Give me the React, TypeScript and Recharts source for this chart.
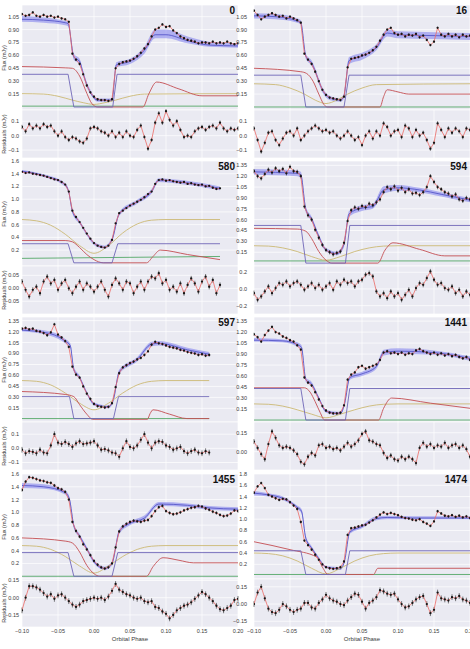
import React from "react";
import { ComposedChart, Line, Area, XAxis, YAxis, CartesianGrid, ErrorBar } from "recharts";

// orbital phase grid shared by all light curves
const PHASE = [-0.1, -0.095, -0.09, -0.085, -0.08, -0.075, -0.07, -0.065, -0.06, -0.055, -0.05, -0.045, -0.04, -0.035, -0.03, -0.025, -0.02, -0.015, -0.01, -0.005, 0, 0.005, 0.01, 0.015, 0.02, 0.025, 0.03, 0.035, 0.04, 0.045, 0.05, 0.055, 0.06, 0.065, 0.07, 0.075, 0.08, 0.085, 0.09, 0.095, 0.1, 0.105, 0.11, 0.115, 0.12, 0.125, 0.13, 0.135, 0.14, 0.145, 0.15, 0.155, 0.16, 0.165, 0.17, 0.175, 0.18, 0.185, 0.19, 0.195, 0.2];
const X_TICKS = [-0.1, -0.05, 0, 0.05, 0.1, 0.15, 0.2];

// observed flux (mJy)
const flux0 = [1.08, 1.06, 1.07, 1.1, 1.06, 1.05, 1.07, 1.05, 1.06, 1.04, 1.05, 1.03, 1.02, 0.99, 0.62, 0.55, 0.5, 0.38, 0.25, 0.17, 0.12, 0.09, 0.08, 0.08, 0.07, 0.09, 0.45, 0.5, 0.52, 0.53, 0.54, 0.56, 0.59, 0.63, 0.68, 0.73, 0.82, 0.9, 0.92, 0.96, 0.93, 0.94, 0.89, 0.86, 0.82, 0.8, 0.78, 0.77, 0.76, 0.74, 0.75, 0.75, 0.74, 0.76, 0.74, 0.75, 0.74, 0.76, 0.74, 0.73, 0.74];
const flux16 = [1.12, 1.07, 1.02, 1.05, 1.07, 1.09, 1.07, 1.05, 1.06, 1.03, 1.05, 1.03, 1.01, 0.98, 0.62, 0.55, 0.5, 0.41, 0.3, 0.2, 0.14, 0.11, 0.1, 0.09, 0.08, 0.12, 0.46, 0.56, 0.57, 0.58, 0.6, 0.61, 0.63, 0.66, 0.7, 0.77, 0.84, 0.9, 0.92, 0.86, 0.84, 0.85, 0.82, 0.84, 0.83, 0.85, 0.81, 0.83, 0.78, 0.72, 0.76, 0.92, 0.84, 0.82, 0.85, 0.82, 0.84, 0.81, 0.84, 0.82, 0.83];
const flux580 = [1.43, 1.41, 1.42, 1.4, 1.39, 1.38, 1.37, 1.35, 1.33, 1.31, 1.3, 1.27, 1.23, 1.12, 0.82, 0.72, 0.64, 0.55, 0.46, 0.38, 0.31, 0.27, 0.25, 0.24, 0.27, 0.36, 0.62, 0.78, 0.82, 0.86, 0.9, 0.93, 0.96, 0.99, 1.03, 1.08, 1.12, 1.24, 1.3, 1.31, 1.29, 1.3, 1.28, 1.27, 1.26, 1.27, 1.24, 1.25, 1.23, 1.22, 1.23, 1.2, 1.21, 1.18, 1.16, 1.17];
const flux594 = [1.27, 1.2, 1.17, 1.23, 1.29, 1.25, 1.31, 1.27, 1.3, 1.24, 1.33, 1.27, 1.26, 1.2, 0.78, 0.66, 0.6, 0.46, 0.35, 0.25, 0.18, 0.15, 0.12, 0.14, 0.16, 0.28, 0.58, 0.73, 0.77, 0.75, 0.79, 0.77, 0.82, 0.8, 0.84, 0.88, 0.98, 1.05, 1.02, 1.06, 1.0, 1.04, 0.98, 1.02, 0.96, 0.97, 0.94, 0.98, 1.05, 1.2, 1.12, 1.05, 1.02, 0.98, 0.96, 0.92, 0.95, 0.88, 0.86, 0.9, 0.88];
const flux597 = [1.24, 1.25, 1.23, 1.24, 1.21, 1.2, 1.18, 1.15, 1.19, 1.3, 1.16, 1.12, 1.07, 0.99, 0.72, 0.61, 0.57, 0.45, 0.35, 0.28, 0.21, 0.18, 0.17, 0.16, 0.17, 0.22, 0.44, 0.63, 0.71, 0.74, 0.77, 0.79, 0.82, 0.84, 0.88, 0.93, 1.02, 1.06, 1.04, 1.03, 1.01, 0.99, 0.98, 0.97, 0.95, 0.94, 0.92, 0.91, 0.9, 0.88, 0.89, 0.87, 0.88];
const flux1441 = [1.17, 1.13, 1.07, 1.16, 1.22, 1.27, 1.2, 1.18, 1.14, 1.12, 1.09, 1.07, 1.02, 0.96, 0.58, 0.51, 0.47, 0.38, 0.28, 0.19, 0.13, 0.1, 0.09, 0.09, 0.1, 0.2, 0.55, 0.62, 0.65, 0.72, 0.74, 0.7, 0.72, 0.74, 0.76, 0.82, 0.92, 0.94, 0.91, 0.92, 0.9, 0.92, 0.89, 0.91, 0.9, 0.95, 0.97, 0.94, 0.92, 0.9, 0.92, 0.89, 0.91, 0.88, 0.9, 0.87, 0.89, 0.86, 0.84, 0.86, 0.82];
const flux1455 = [1.35, 1.48, 1.55, 1.54, 1.52, 1.5, 1.49, 1.47, 1.46, 1.42, 1.38, 1.36, 1.32, 1.2, 0.85, 0.71, 0.62, 0.5, 0.42, 0.33, 0.24, 0.18, 0.14, 0.12, 0.14, 0.2, 0.45, 0.7, 0.78, 0.82, 0.85, 0.87, 0.86, 0.85, 0.87, 0.88, 0.94, 1.02, 1.08, 1.1, 1.02, 0.99, 0.97, 0.98, 1.0, 1.03, 1.05, 1.07, 1.08, 1.1, 1.09, 1.06, 1.04, 1.01, 0.99, 0.96, 0.94, 0.95, 0.98, 1.03, 1.02];
const flux1474 = [1.47, 1.58, 1.64, 1.55, 1.43, 1.4, 1.37, 1.34, 1.36, 1.35, 1.3, 1.24, 1.18, 0.95, 0.62, 0.54, 0.46, 0.37, 0.28, 0.2, 0.15, 0.13, 0.12, 0.13, 0.15, 0.25, 0.72, 0.84, 0.85, 0.87, 0.89, 0.9, 0.94, 0.98, 1.03, 1.08, 1.12, 1.09, 1.11, 1.09, 1.07, 1.04, 1.02, 1.01, 0.99, 0.98, 1.0, 0.95, 0.92, 0.88, 0.96, 1.14, 1.1, 1.06, 1.05, 1.07, 1.04, 1.06, 1.03, 1.05, 1.02];

// residuals (mJy)
const res0 = [0.06, 0.03, 0.08, 0.05, 0.07, 0.05, 0.08, 0.06, 0.07, 0.03, 0.0, 0.03, -0.01, -0.03, -0.01, -0.02, -0.04, -0.05, -0.02, 0.05, 0.06, 0.05, 0.03, 0.02, 0.0, 0.03, -0.01, 0.02, -0.01, 0.03, 0.0, -0.01, 0.04, 0.07, -0.01, -0.09, -0.03, 0.09, 0.155, 0.09, 0.17, 0.11, 0.07, 0.1, 0.04, -0.01, 0.0, -0.01, 0.03, 0.05, 0.06, 0.04, 0.06, 0.07, 0.05, 0.09, 0.05, 0.03, 0.05, 0.04, 0.05];
const res16 = [0.05, -0.03, -0.11, -0.05, 0.02, 0.03, -0.03, -0.065, -0.02, 0.02, 0.03, 0.0, 0.05, -0.03, 0.0, 0.03, 0.05, 0.07, 0.05, 0.03, 0.04, 0.02, 0.03, 0.0, -0.02, 0.0, 0.03, 0.0, -0.03, -0.01, -0.065, 0.0, 0.03, -0.02, 0.03, 0.0, 0.085, 0.06, 0.0, 0.03, 0.04, -0.01, 0.07, 0.05, -0.01, 0.04, 0.0, 0.02, -0.03, -0.09, -0.05, 0.085, 0.04, -0.01, 0.05, 0.02, 0.05, 0.03, -0.01, 0.05, 0.04];
const res580 = [0.026, -0.006, -0.032, -0.006, 0.006, -0.019, 0.026, 0.045, 0.019, 0.032, -0.006, 0.019, 0.032, 0.0, -0.019, 0.006, 0.026, -0.006, 0.019, 0.006, -0.013, 0.006, 0.026, -0.006, -0.032, 0.013, 0.038, 0.019, -0.006, 0.026, 0.019, -0.019, 0.006, 0.026, -0.006, 0.026, 0.045, 0.038, 0.058, 0.019, 0.032, -0.006, 0.006, -0.013, 0.019, -0.019, 0.013, 0.038, 0.019, -0.013, 0.026, 0.045, 0.006, 0.032, -0.019, 0.013];
const res594 = [-0.05, -0.13, -0.09, -0.03, 0.03, -0.05, 0.01, 0.07, 0.05, 0.09, 0.03, 0.07, 0.09, 0.05, -0.01, 0.03, 0.07, 0.01, 0.05, -0.01, 0.03, 0.07, -0.01, 0.09, 0.05, 0.11, 0.07, 0.09, 0.03, 0.09, 0.11, 0.17, 0.19, 0.15, -0.03, -0.09, -0.05, -0.11, -0.03, -0.09, -0.05, -0.13, -0.07, -0.01, -0.09, 0.01, 0.07, 0.05, 0.13, 0.21, 0.11, 0.05, 0.07, 0.01, -0.01, 0.03, -0.05, -0.01, -0.09, -0.03, -0.07];
const res597 = [-0.01, -0.035, -0.02, -0.025, -0.035, -0.01, -0.03, -0.035, 0.02, 0.1, 0.04, 0.03, 0.045, 0.03, 0.01, 0.035, 0.05, 0.03, 0.035, 0.04, 0.05, 0.02, -0.01, -0.005, -0.015, -0.03, -0.035, -0.06, 0.0, 0.05, 0.01, 0.0, 0.02, 0.06, 0.1, 0.04, 0.0, 0.04, 0.05, 0.045, 0.02, 0.01, -0.01, 0.0, 0.01, -0.02, -0.035, -0.02, -0.01, -0.03, -0.035, -0.02, -0.03];
const res1441 = [0.08, 0.03, -0.02, -0.06, 0.06, 0.16, 0.11, 0.05, 0.03, 0.04, 0.03, 0.01, -0.02, -0.08, -0.1, -0.04, -0.01, -0.03, 0.05, 0.06, 0.03, 0.04, 0.02, 0.03, 0.01, 0.04, 0.07, 0.04, 0.06, 0.09, 0.14, 0.16, 0.09, 0.08, 0.06, 0.05, -0.01, -0.05, -0.03, -0.06, -0.07, -0.04, -0.06, -0.04, -0.06, -0.09, 0.03, 0.07, 0.04, 0.06, 0.03, 0.05, 0.04, 0.07, 0.03, 0.05, 0.06, 0.03, 0.05, 0.02, -0.04];
const res1455 = [-0.11, 0.0, 0.1, 0.1, 0.09, 0.07, 0.04, 0.01, 0.03, -0.01, 0.02, 0.03, 0.0, -0.03, -0.06, -0.08, -0.06, -0.03, -0.02, -0.01, 0.0, -0.01, 0.0, -0.02, 0.01, 0.06, 0.12, 0.07, 0.05, 0.03, 0.02, 0.0, -0.01, 0.0, -0.03, -0.04, -0.03, -0.08, -0.09, -0.12, -0.14, -0.18, -0.15, -0.11, -0.09, -0.07, -0.06, -0.04, -0.01, 0.02, 0.05, 0.03, 0.0, -0.03, -0.07, -0.1, -0.11, -0.09, -0.07, -0.02, -0.01];
const res1474 = [0.0, 0.1, 0.15, 0.05, -0.04, -0.07, -0.08, -0.05, 0.0, -0.02, -0.05, -0.07, -0.05, -0.04, 0.01, 0.01, -0.03, -0.04, 0.01, 0.04, 0.08, 0.05, 0.03, 0.02, 0.0, -0.01, 0.03, 0.06, 0.09, 0.08, 0.02, -0.04, 0.01, 0.03, 0.06, 0.12, 0.11, 0.09, 0.08, 0.09, 0.04, 0.0, -0.03, -0.02, 0.01, 0.04, 0.06, 0.07, 0.0, -0.08, -0.05, 0.1, 0.05, 0.04, 0.03, 0.06, 0.05, 0.07, 0.04, 0.03, 0.01];

// model spread: [phase, low, mean, high]
const band0 = [[-0.1, 0.99, 1.02, 1.06], [-0.07, 0.98, 1.01, 1.04], [-0.04, 0.95, 0.98, 1.0], [-0.036, 0.94, 0.97, 0.99], [-0.028, 0.55, 0.58, 0.62], [-0.02, 0.5, 0.53, 0.56], [-0.015, 0.36, 0.39, 0.42], [-0.01, 0.23, 0.26, 0.29], [-0.005, 0.15, 0.17, 0.2], [0.005, 0.06, 0.08, 0.1], [0.025, 0.06, 0.08, 0.1], [0.031, 0.46, 0.49, 0.52], [0.05, 0.5, 0.53, 0.56], [0.07, 0.62, 0.66, 0.7], [0.085, 0.8, 0.84, 0.9], [0.1, 0.8, 0.84, 0.9], [0.13, 0.74, 0.77, 0.82], [0.16, 0.7, 0.72, 0.76], [0.2, 0.69, 0.71, 0.74]];
const band16 = [[-0.1, 1.03, 1.06, 1.09], [-0.07, 1.02, 1.05, 1.08], [-0.04, 0.98, 1.0, 1.03], [-0.035, 0.96, 0.98, 1.01], [-0.028, 0.56, 0.59, 0.62], [-0.02, 0.48, 0.51, 0.54], [-0.015, 0.39, 0.42, 0.45], [-0.01, 0.27, 0.3, 0.33], [-0.005, 0.17, 0.2, 0.23], [0.005, 0.08, 0.11, 0.13], [0.02, 0.06, 0.08, 0.1], [0.025, 0.1, 0.13, 0.16], [0.032, 0.5, 0.54, 0.58], [0.05, 0.55, 0.59, 0.63], [0.07, 0.66, 0.69, 0.73], [0.085, 0.82, 0.86, 0.9], [0.1, 0.8, 0.84, 0.88], [0.15, 0.79, 0.83, 0.87], [0.2, 0.78, 0.82, 0.86]];
const band580 = [[-0.1, 1.41, 1.44, 1.46], [-0.07, 1.35, 1.37, 1.39], [-0.04, 1.2, 1.23, 1.25], [-0.035, 1.08, 1.11, 1.14], [-0.03, 0.78, 0.81, 0.85], [-0.02, 0.61, 0.64, 0.67], [-0.01, 0.43, 0.46, 0.48], [0.0, 0.28, 0.31, 0.33], [0.015, 0.22, 0.24, 0.27], [0.025, 0.33, 0.36, 0.4], [0.035, 0.74, 0.77, 0.8], [0.06, 0.93, 0.96, 0.99], [0.08, 1.09, 1.12, 1.16], [0.09, 1.27, 1.3, 1.33], [0.12, 1.24, 1.27, 1.3], [0.175, 1.14, 1.17, 1.2]];
const band594 = [[-0.1, 1.22, 1.26, 1.3], [-0.04, 1.2, 1.24, 1.28], [-0.035, 1.18, 1.22, 1.26], [-0.028, 0.7, 0.74, 0.78], [-0.02, 0.58, 0.61, 0.64], [-0.01, 0.34, 0.37, 0.4], [0.0, 0.16, 0.18, 0.21], [0.015, 0.11, 0.13, 0.16], [0.025, 0.22, 0.26, 0.3], [0.032, 0.64, 0.68, 0.72], [0.05, 0.72, 0.76, 0.8], [0.065, 0.75, 0.78, 0.82], [0.08, 0.96, 1.01, 1.06], [0.1, 1.0, 1.04, 1.08], [0.13, 0.98, 1.01, 1.04], [0.16, 0.92, 0.95, 0.98], [0.2, 0.84, 0.87, 0.9]];
const band597 = [[-0.1, 1.2, 1.22, 1.25], [-0.06, 1.14, 1.17, 1.2], [-0.04, 1.04, 1.07, 1.1], [-0.033, 0.98, 1.01, 1.04], [-0.028, 0.65, 0.68, 0.72], [-0.02, 0.55, 0.57, 0.6], [-0.01, 0.34, 0.36, 0.38], [0.0, 0.19, 0.21, 0.23], [0.02, 0.15, 0.17, 0.19], [0.027, 0.24, 0.27, 0.3], [0.035, 0.62, 0.65, 0.68], [0.06, 0.79, 0.82, 0.85], [0.08, 1.0, 1.03, 1.06], [0.09, 1.01, 1.04, 1.07], [0.13, 0.92, 0.95, 0.98], [0.16, 0.86, 0.89, 0.92]];
const band1441 = [[-0.1, 1.07, 1.09, 1.12], [-0.06, 1.06, 1.08, 1.1], [-0.04, 1.0, 1.03, 1.06], [-0.034, 0.96, 0.99, 1.02], [-0.028, 0.52, 0.55, 0.58], [-0.02, 0.47, 0.49, 0.52], [-0.01, 0.28, 0.3, 0.32], [0.0, 0.1, 0.12, 0.14], [0.02, 0.07, 0.09, 0.11], [0.026, 0.2, 0.23, 0.26], [0.033, 0.55, 0.58, 0.61], [0.05, 0.6, 0.63, 0.66], [0.07, 0.7, 0.73, 0.76], [0.08, 0.88, 0.92, 0.96], [0.1, 0.9, 0.94, 0.98], [0.15, 0.89, 0.92, 0.95], [0.2, 0.81, 0.84, 0.87]];
const band1455 = [[-0.1, 1.38, 1.42, 1.46], [-0.07, 1.37, 1.4, 1.44], [-0.04, 1.28, 1.31, 1.34], [-0.034, 1.16, 1.2, 1.24], [-0.028, 0.75, 0.79, 0.83], [-0.02, 0.6, 0.63, 0.66], [-0.01, 0.4, 0.43, 0.46], [0.0, 0.2, 0.23, 0.26], [0.015, 0.1, 0.12, 0.15], [0.025, 0.17, 0.2, 0.23], [0.035, 0.66, 0.7, 0.74], [0.05, 0.8, 0.83, 0.86], [0.07, 0.88, 0.91, 0.95], [0.09, 1.1, 1.13, 1.16], [0.13, 1.08, 1.11, 1.14], [0.16, 1.04, 1.07, 1.1], [0.2, 1.02, 1.05, 1.08]];
const band1474 = [[-0.1, 1.42, 1.46, 1.5], [-0.08, 1.4, 1.43, 1.46], [-0.06, 1.34, 1.37, 1.4], [-0.04, 1.18, 1.21, 1.24], [-0.034, 1.1, 1.14, 1.18], [-0.028, 0.62, 0.66, 0.7], [-0.02, 0.46, 0.49, 0.52], [-0.01, 0.28, 0.3, 0.33], [0.0, 0.13, 0.15, 0.17], [0.02, 0.1, 0.12, 0.15], [0.026, 0.24, 0.27, 0.3], [0.033, 0.74, 0.77, 0.8], [0.05, 0.84, 0.87, 0.9], [0.07, 0.98, 1.01, 1.05], [0.085, 1.0, 1.03, 1.06], [0.12, 1.0, 1.02, 1.05], [0.2, 1.0, 1.02, 1.05]];

// white dwarf component [phase, flux]
const wd0 = [[-0.1, 0.38], [-0.036, 0.38], [-0.028, 0], [0.026, 0], [0.032, 0.38], [0.2, 0.38]];
const wd16 = [[-0.1, 0.37], [-0.035, 0.37], [-0.028, 0], [0.025, 0], [0.032, 0.37], [0.2, 0.37]];
const wd580 = [[-0.1, 0.3], [-0.036, 0.3], [-0.028, 0], [0.025, 0], [0.033, 0.3], [0.175, 0.3]];
const wd594 = [[-0.1, 0.52], [-0.035, 0.52], [-0.028, 0], [0.027, 0], [0.033, 0.52], [0.2, 0.52]];
const wd597 = [[-0.1, 0.31], [-0.034, 0.31], [-0.028, 0.01], [0.027, 0.01], [0.034, 0.31], [0.16, 0.31]];
const wd1441 = [[-0.1, 0.43], [-0.035, 0.43], [-0.028, 0], [0.027, 0], [0.033, 0.43], [0.2, 0.43]];
const wd1455 = [[-0.1, 0.37], [-0.036, 0.37], [-0.028, 0], [0.025, 0], [0.033, 0.37], [0.2, 0.37]];
const wd1474 = [[-0.1, 0.44], [-0.035, 0.44], [-0.028, 0.02], [0.027, 0.02], [0.033, 0.44], [0.2, 0.44]];

// bright spot component
const bs0 = [[-0.1, 0.47], [-0.04, 0.455], [-0.03, 0.45], [-0.02, 0.36], [-0.01, 0.16], [-0.003, 0.04], [0.005, 0], [0.068, 0], [0.076, 0.15], [0.087, 0.29], [0.118, 0.21], [0.15, 0.13], [0.2, 0.13]];
const bs16 = [[-0.1, 0.45], [-0.035, 0.41], [-0.027, 0.39], [-0.018, 0.3], [-0.01, 0.15], [-0.003, 0.03], [0.002, 0], [0.075, 0], [0.08, 0.12], [0.085, 0.2], [0.1, 0.175], [0.115, 0.15], [0.2, 0.15]];
const bs580 = [[-0.1, 0.35], [-0.04, 0.35], [-0.03, 0.33], [-0.02, 0.24], [-0.01, 0.13], [0.0, 0.05], [0.013, 0], [0.073, 0], [0.082, 0.1], [0.092, 0.2], [0.13, 0.13], [0.175, 0.05]];
const bs594 = [[-0.1, 0.48], [-0.04, 0.47], [-0.028, 0.44], [-0.02, 0.34], [-0.01, 0.16], [0.0, 0.04], [0.008, 0], [0.072, 0], [0.082, 0.18], [0.093, 0.28], [0.13, 0.19], [0.165, 0.1], [0.2, 0.1]];
const bs597 = [[-0.1, 0.38], [-0.04, 0.34], [-0.028, 0.31], [-0.02, 0.2], [-0.01, 0.07], [-0.002, 0], [0.074, 0], [0.078, 0.08], [0.082, 0.13], [0.105, 0.07], [0.129, 0.01], [0.16, 0.01]];
const bs1441 = [[-0.1, 0.44], [-0.03, 0.44], [-0.022, 0.38], [-0.015, 0.25], [-0.008, 0.1], [-0.002, 0], [0.073, 0], [0.08, 0.16], [0.091, 0.3], [0.145, 0.23], [0.2, 0.16]];
const bs1455 = [[-0.1, 0.6], [-0.04, 0.55], [-0.03, 0.52], [-0.02, 0.38], [-0.01, 0.17], [0.0, 0.04], [0.008, 0], [0.073, 0], [0.082, 0.15], [0.096, 0.29], [0.118, 0.25], [0.138, 0.21], [0.2, 0.21]];
const bs1474 = [[-0.1, 0.6], [-0.05, 0.46], [-0.013, 0.33], [-0.005, 0.15], [0.003, 0.02], [0.066, 0.02], [0.072, 0.13], [0.2, 0.13]];

// ellipsoidal / disc component
const el0 = [[-0.1, 0.155], [-0.07, 0.15], [-0.05, 0.125], [-0.03, 0.08], [-0.015, 0.05], [0, 0.03], [0.015, 0.05], [0.03, 0.08], [0.05, 0.125], [0.07, 0.15], [0.2, 0.155]];
const el16 = [[-0.1, 0.27], [-0.07, 0.26], [-0.05, 0.22], [-0.03, 0.15], [-0.015, 0.08], [0, 0.04], [0.015, 0.08], [0.03, 0.15], [0.05, 0.22], [0.07, 0.26], [0.2, 0.27]];
const el580 = [[-0.1, 0.68], [-0.08, 0.66], [-0.06, 0.59], [-0.04, 0.45], [-0.02, 0.27], [0, 0.15], [0.02, 0.27], [0.04, 0.47], [0.06, 0.61], [0.08, 0.67], [0.1, 0.68], [0.175, 0.68]];
const el594 = [[-0.1, 0.24], [-0.08, 0.235], [-0.06, 0.21], [-0.04, 0.16], [-0.02, 0.09], [0, 0.04], [0.02, 0.09], [0.04, 0.16], [0.06, 0.21], [0.08, 0.235], [0.1, 0.24], [0.2, 0.24]];
const el597 = [[-0.1, 0.53], [-0.08, 0.52], [-0.06, 0.47], [-0.04, 0.36], [-0.02, 0.22], [0, 0.13], [0.02, 0.22], [0.04, 0.36], [0.06, 0.47], [0.08, 0.52], [0.1, 0.53], [0.16, 0.53]];
const el1441 = [[-0.1, 0.22], [-0.08, 0.215], [-0.06, 0.19], [-0.04, 0.14], [-0.02, 0.08], [0, 0.03], [0.02, 0.08], [0.04, 0.14], [0.06, 0.19], [0.08, 0.215], [0.1, 0.22], [0.2, 0.22]];
const el1455 = [[-0.1, 0.48], [-0.08, 0.47], [-0.06, 0.42], [-0.04, 0.31], [-0.02, 0.16], [0, 0.05], [0.02, 0.16], [0.04, 0.31], [0.06, 0.42], [0.08, 0.47], [0.1, 0.48], [0.2, 0.48]];
const el1474 = [[-0.1, 0.4], [-0.08, 0.39], [-0.06, 0.35], [-0.04, 0.26], [-0.02, 0.13], [0, 0.03], [0.02, 0.13], [0.04, 0.26], [0.06, 0.35], [0.08, 0.39], [0.1, 0.4], [0.2, 0.4]];

// donor component
const gr0 = [[-0.1, 0.01], [0.2, 0.01]];
const gr16 = [[-0.1, 0.0], [0.2, 0.0]];
const gr580 = [[-0.1, 0.07], [0.175, 0.1]];
const gr594 = [[-0.1, 0.03], [0.2, 0.03]];
const gr597 = [[-0.1, 0.01], [0.16, 0.01]];
const gr1441 = [[-0.1, 0.0], [0.2, 0.0]];
const gr1455 = [[-0.1, 0.0], [0.2, 0.0]];
const gr1474 = [[-0.1, 0.02], [0.2, 0.02]];

const FT15 = [0.15, 0.3, 0.45, 0.6, 0.75, 0.9, 1.05];
const FT15L = [0.15, 0.3, 0.45, 0.6, 0.75, 0.9, 1.05, 1.2, 1.35];
const FT2 = [0.2, 0.4, 0.6, 0.8, 1.0, 1.2, 1.4, 1.6];
const FT2L = [0.2, 0.4, 0.6, 0.8, 1.0, 1.2, 1.4, 1.6, 1.8];

const PANELS = [
  { id: "0", flux: flux0, res: res0, band: band0, wd: wd0, bs: bs0, el: el0, gr: gr0, err: 0.015, fT: FT15, fD: 2, fDom: [-0.035, 1.186], rT: [-0.1, 0, 0.1], rD: 1, rDom: [-0.155, 0.178] },
  { id: "16", flux: flux16, res: res16, band: band16, wd: wd16, bs: bs16, el: el16, gr: gr16, err: 0.015, fT: FT15, fD: 2, fDom: [-0.035, 1.186], rT: [-0.1, 0, 0.1], rD: 1, rDom: [-0.155, 0.178] },
  { id: "580", flux: flux580, res: res580, band: band580, wd: wd580, bs: bs580, el: el580, gr: gr580, err: 0.01, fT: FT2, fD: 1, fDom: [-0.05, 1.6], rT: [-0.05, 0, 0.05], rD: 2, rDom: [-0.099, 0.086] },
  { id: "594", flux: flux594, res: res594, band: band594, wd: wd594, bs: bs594, el: el594, gr: gr594, err: 0.03, fT: FT15L, fD: 2, fDom: [-0.04, 1.41], rT: [-0.2, 0, 0.2], rD: 1, rDom: [-0.3, 0.275] },
  { id: "597", flux: flux597, res: res597, band: band597, wd: wd597, bs: bs597, el: el597, gr: gr597, err: 0.02, fT: FT15L, fD: 2, fDom: [-0.037, 1.4], rT: [-0.1, 0, 0.1], rD: 1, rDom: [-0.153, 0.186] },
  { id: "1441", flux: flux1441, res: res1441, band: band1441, wd: wd1441, bs: bs1441, el: el1441, gr: gr1441, err: 0.02, fT: FT15L, fD: 2, fDom: [-0.027, 1.406], rT: [0, 0.15], rD: 2, rDom: [-0.145, 0.235] },
  { id: "1455", flux: flux1455, res: res1455, band: band1455, wd: wd1455, bs: bs1455, el: el1455, gr: gr1455, err: 0.025, fT: FT2, fD: 1, fDom: [-0.043, 1.6], rT: [-0.15, 0, 0.15], rD: 2, rDom: [-0.255, 0.163] },
  { id: "1474", flux: flux1474, res: res1474, band: band1474, wd: wd1474, bs: bs1474, el: el1474, gr: gr1474, err: 0.025, fT: FT2L, fD: 1, fDom: [-0.06, 1.8], rT: [-0.15, 0, 0.15], rD: 2, rDom: [-0.2, 0.218] },
];

const ROW_TOP = [5, 161, 317, 474];
const FLUX_H = 105;
const RES_H = 48;
const FONT = "'Liberation Sans', Arial, sans-serif";

const fmt = (d: number) => (v: number) => v.toFixed(d).replace("-", "\u2212");
const xy = (a: number[][]) => a.map(([x, y]) => ({ x, y }));

const vLabel: React.CSSProperties = {
  position: "absolute",
  left: 4,
  transform: "translate(-50%, -50%) rotate(-90deg)",
  fontSize: 5.5,
  lineHeight: "6px",
  whiteSpace: "nowrap",
  fontFamily: FONT,
  color: "#3a3a3a",
};

function Panel({ p, row, col }: { p: any; row: number; col: number }) {
  const left = col === 0 ? 0 : 230;
  const top = ROW_TOP[row];
  const yw = col === 0 ? 22 : 24;
  const w = col === 0 ? 248 : 240;
  const margin = { top: 0, right: col === 0 ? 10 : 0, bottom: 0, left: 0 };
  const last = row === ROW_TOP.length - 1;
  const pts = p.flux.map((y: number, i: number) => ({ x: PHASE[i], y, e: p.err }));
  const res = p.res.map((y: number, i: number) => ({ x: PHASE[i], y, e: p.err }));
  const band = p.band.map(([x, lo, mid, hi]: number[]) => ({ x, range: [lo, hi], mid }));
  const tick = { fontSize: 5.5, fill: "#3a3a3a", fontFamily: FONT };
  const yProps = {
    width: yw,
    allowDataOverflow: true,
    tickSize: 0,
    tickMargin: col === 0 ? 3 : 7,
    axisLine: false,
    tick,
    interval: 0 as const,
  };
  const plotR = col === 0 ? 238 : 470;
  const dot = { r: 1.15, fill: "#151515", stroke: "none" };

  return (
    <>
      <div style={{ position: "absolute", left, top }}>
        <ComposedChart width={w} height={FLUX_H} data={band} margin={margin}>
          <CartesianGrid fill="#EAEAF2" stroke="#ffffff" strokeWidth={0.7} />
          <XAxis type="number" dataKey="x" domain={[-0.1, 0.2]} ticks={X_TICKS} allowDataOverflow hide />
          <YAxis {...yProps} domain={p.fDom} ticks={p.fT} tickFormatter={fmt(p.fD)} />
          <Area dataKey="range" type="monotone" fill="#7474ee" fillOpacity={0.5} stroke="none" isAnimationActive={false} />
          <Line dataKey="mid" type="monotone" stroke="#4b4bc4" strokeWidth={0.8} dot={false} isAnimationActive={false} />
          <Line data={xy(p.gr)} dataKey="y" type="linear" stroke="#55A868" strokeWidth={0.9} dot={false} isAnimationActive={false} />
          <Line data={xy(p.el)} dataKey="y" type="monotone" stroke="#CCB974" strokeWidth={0.9} dot={false} isAnimationActive={false} />
          <Line data={xy(p.bs)} dataKey="y" type="monotone" stroke="#C44E52" strokeWidth={0.9} dot={false} isAnimationActive={false} />
          <Line data={xy(p.wd)} dataKey="y" type="linear" stroke="#6f66b8" strokeWidth={0.9} dot={false} isAnimationActive={false} />
          <Line data={pts} dataKey="y" stroke="none" dot={dot} isAnimationActive={false}>
            <ErrorBar dataKey="e" width={0} stroke="#222" strokeWidth={0.6} direction="y" />
          </Line>
          <Line data={pts} dataKey="y" type="linear" stroke="#ec6a64" strokeWidth={0.8} dot={false} isAnimationActive={false} />
        </ComposedChart>
        <ComposedChart width={w} height={RES_H + (last ? 22 : 0)} data={res} margin={margin}>
          <CartesianGrid fill="#EAEAF2" stroke="#ffffff" strokeWidth={0.7} />
          <XAxis
            type="number"
            dataKey="x"
            domain={[-0.1, 0.2]}
            ticks={X_TICKS}
            allowDataOverflow
            hide={!last}
            height={22}
            tickSize={0}
            tickMargin={2}
            axisLine={false}
            tick={tick}
            interval={0}
            tickFormatter={fmt(2)}
          />
          <YAxis {...yProps} domain={p.rDom} ticks={p.rT} tickFormatter={fmt(p.rD)} />
          <Line dataKey="y" stroke="none" dot={dot} isAnimationActive={false}>
            <ErrorBar dataKey="e" width={0} stroke="#222" strokeWidth={0.6} direction="y" />
          </Line>
          <Line dataKey="y" type="linear" stroke="#ec6a64" strokeWidth={0.8} dot={false} isAnimationActive={false} />
        </ComposedChart>
      </div>
      <div
        style={{
          position: "absolute",
          left: left,
          width: plotR - left - 3,
          top: top + 1,
          textAlign: "right",
          fontWeight: 700,
          fontSize: 10,
          lineHeight: "10px",
          fontFamily: FONT,
          color: "#111",
        }}
      >
        {p.id}
      </div>
      {col === 0 && (
        <>
          <div style={{ ...vLabel, top: top + FLUX_H / 2 }}>Flux (mJy)</div>
          <div style={{ ...vLabel, top: top + FLUX_H + RES_H / 2 }}>Residuals (mJy)</div>
        </>
      )}
      {last && (
        <div
          style={{
            position: "absolute",
            left: col === 0 ? 22 : 254,
            width: 216,
            top: 636,
            textAlign: "center",
            fontSize: 6,
            lineHeight: "7px",
            fontFamily: FONT,
            color: "#3a3a3a",
          }}
        >
          Orbital Phase
        </div>
      )}
    </>
  );
}

export default function App() {
  return (
    <div style={{ position: "absolute", left: 0, top: 0, width: 470, height: 649, background: "#fff", overflow: "hidden", fontFamily: FONT }}>
      <style>{"svg.recharts-surface { overflow: visible; }"}</style>
      {PANELS.map((p, i) => (
        <Panel key={p.id} p={p} row={Math.floor(i / 2)} col={i % 2} />
      ))}
    </div>
  );
}
